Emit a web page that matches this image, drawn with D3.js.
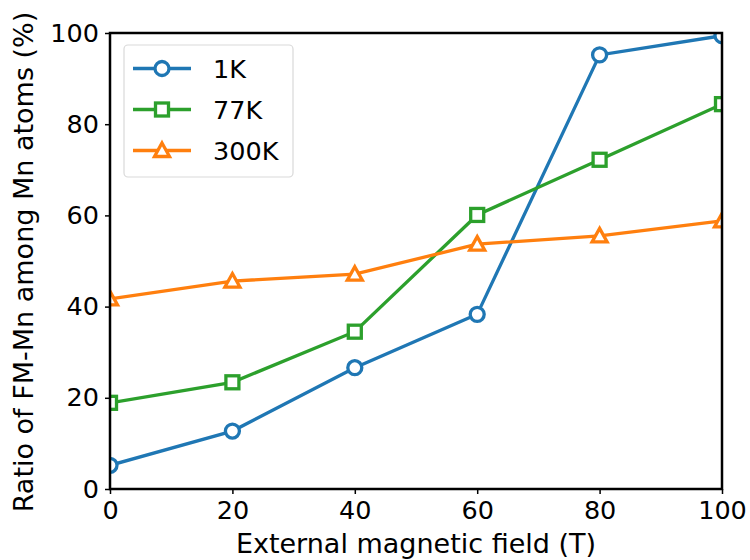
<!DOCTYPE html>
<html><head><meta charset="utf-8">
<script src="https://cdn.jsdelivr.net/npm/d3@7"></script>
<style>body{margin:0;background:#fff}svg{display:block}text{font-family:"DejaVu Sans",sans-serif}</style>
</head><body><div id="chart"></div>
<script>
const fields = [0, 20, 40, 60, 80, 100];
const series1K = [5.2, 12.7, 26.6, 38.3, 95.2, 99.4];
const series77K = [18.9, 23.4, 34.5, 60.1, 72.2, 84.4];
const series300K = [41.7, 45.6, 47.1, 53.7, 55.5, 58.8];
const xTicks = [0, 20, 40, 60, 80, 100];
const yTicks = [0, 20, 40, 60, 80, 100];
const seriesNames = ["1K", "77K", "300K"];
const seriesColors = ["#1f77b4", "#2ca02c", "#ff7f0e"];
const seriesMarkers = ["circle", "square", "triangle"];
const seriesData = [series1K, series77K, series300K];

const W = 750, H = 560;
const FS = 25.5, LFS = 27;
const m = {left: 110, right: 28, top: 33, bottom: 71};
const svg = d3.select("#chart").append("svg").attr("width", W).attr("height", H);
const x = d3.scaleLinear().domain([0, 100]).range([m.left, W - m.right]);
const y = d3.scaleLinear().domain([0, 100]).range([H - m.bottom, m.top]);

svg.append("clipPath").attr("id", "clip").append("rect")
  .attr("x", m.left).attr("y", m.top).attr("width", W - m.left - m.right).attr("height", H - m.top - m.bottom);

function marker(g, type, cx, cy, color) {
  if (type === "circle") {
    g.append("circle").attr("cx", cx).attr("cy", cy).attr("r", 7)
      .attr("fill", "#fff").attr("stroke", color).attr("stroke-width", 3.3);
  } else if (type === "square") {
    g.append("rect").attr("x", cx - 6.5).attr("y", cy - 6.5).attr("width", 13).attr("height", 13)
      .attr("fill", "#fff").attr("stroke", color).attr("stroke-width", 3.3);
  } else {
    const s = 7.5;
    g.append("path").attr("d", `M${cx},${cy - s}L${cx + s},${cy + s * 0.8}L${cx - s},${cy + s * 0.8}Z`)
      .attr("fill", "#fff").attr("stroke", color).attr("stroke-width", 3.3).attr("stroke-linejoin", "miter");
  }
}

const plot = svg.append("g").attr("clip-path", "url(#clip)");
const line = d3.line().x((d, i) => x(fields[i])).y(d => y(d));
seriesData.forEach((vals, k) => {
  plot.append("path").datum(vals).attr("d", line).attr("fill", "none")
    .attr("stroke", seriesColors[k]).attr("stroke-width", 3.3);
  vals.forEach((v, i) => marker(plot, seriesMarkers[k], x(fields[i]), y(v), seriesColors[k]));
});

// axes
const xAxis = svg.append("g").attr("transform", `translate(0,${H - m.bottom})`)
  .call(d3.axisBottom(x).tickValues(xTicks).tickSize(5).tickPadding(7));
const yAxis = svg.append("g").attr("transform", `translate(${m.left},0)`)
  .call(d3.axisLeft(y).tickValues(yTicks).tickSize(5).tickPadding(6));
[xAxis, yAxis].forEach(a => {
  a.attr("font-size", FS).attr("font-family", "DejaVu Sans, sans-serif");
  a.select(".domain").remove();
  a.selectAll(".tick line").attr("stroke", "#000").attr("stroke-width", 1.5);
  a.selectAll(".tick text").attr("fill", "#000");
});
svg.append("rect").attr("x", m.left).attr("y", m.top).attr("width", W - m.left - m.right)
  .attr("height", H - m.top - m.bottom).attr("fill", "none").attr("stroke", "#000").attr("stroke-width", 2.5);

svg.append("text").attr("x", (m.left + W - m.right) / 2).attr("y", 553).attr("text-anchor", "middle")
  .attr("font-size", LFS).text("External magnetic field (T)");
svg.append("text").attr("transform", `translate(33,${(m.top + H - m.bottom) / 2 + 1}) rotate(-90)`)
  .attr("text-anchor", "middle").attr("font-size", LFS).text("Ratio of FM-Mn among Mn atoms (%)");

// legend
const lg = svg.append("g");
lg.append("rect").attr("x", 124).attr("y", 45).attr("width", 169).attr("height", 132).attr("rx", 4)
  .attr("fill", "#fff").attr("stroke", "#d9d9d9").attr("stroke-width", 1.2);
seriesNames.forEach((n, k) => {
  const yy = 68.5 + k * 41;
  lg.append("line").attr("x1", 133).attr("x2", 191).attr("y1", yy).attr("y2", yy)
    .attr("stroke", seriesColors[k]).attr("stroke-width", 3.3);
  marker(lg, seriesMarkers[k], 162, yy, seriesColors[k]);
  lg.append("text").attr("x", 213).attr("y", yy + 9.5).attr("font-size", FS).text(n);
});
</script></body></html>
